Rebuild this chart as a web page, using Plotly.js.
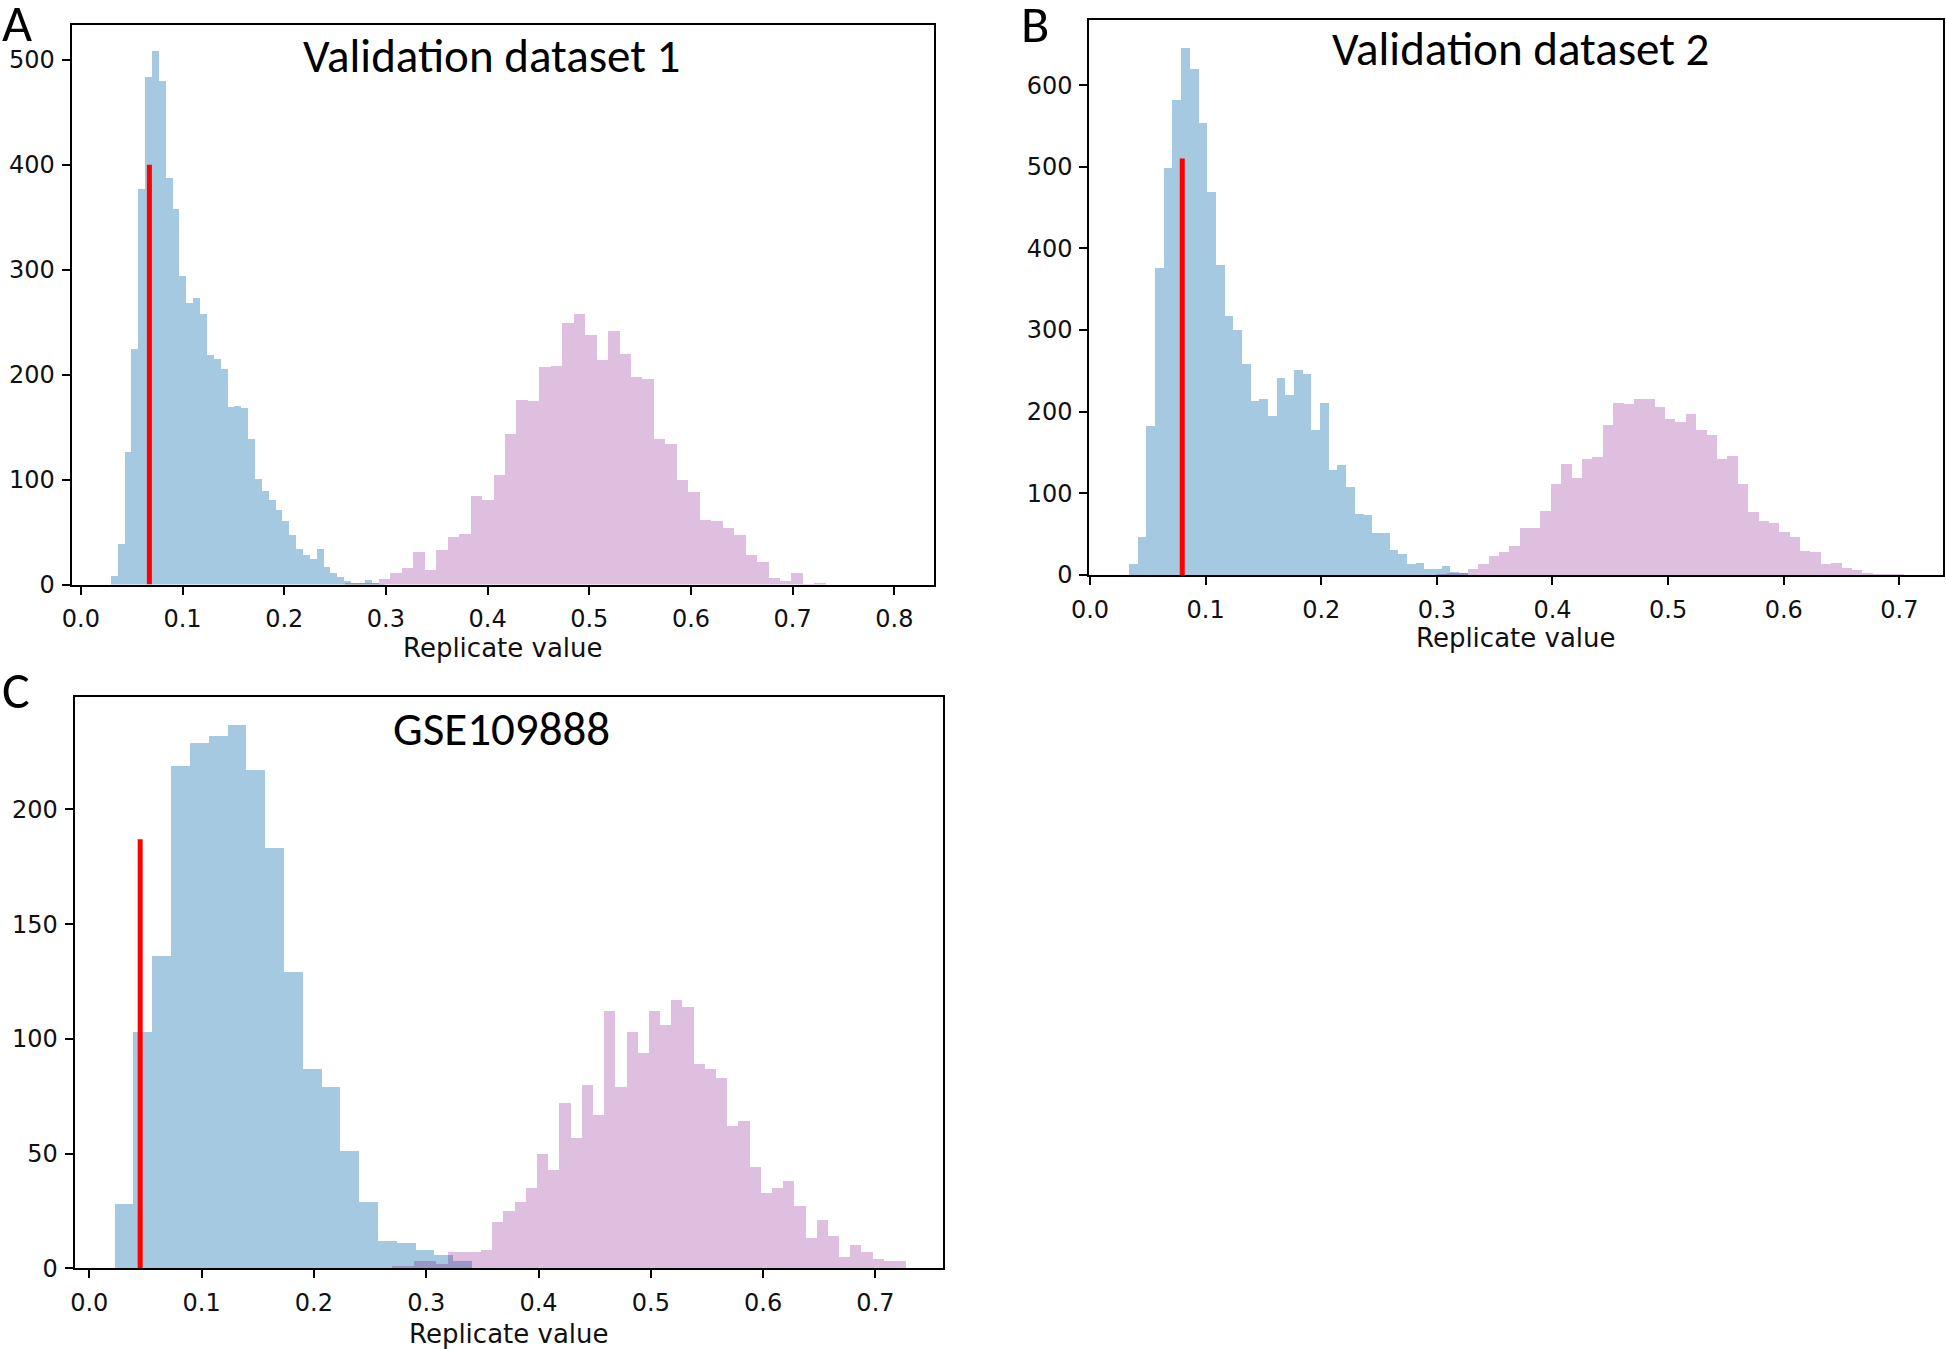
<!DOCTYPE html>
<html>
<head>
<meta charset="utf-8">
<script src="https://cdn.plot.ly/plotly-3.0.1.min.js"></script>
<style>
  html, body { margin: 0; padding: 0; background: #fff; }
  #chart { width: 1946px; height: 1349px; }
</style>
</head>
<body>
<div id="chart"></div>
<script>
// panel A - Validation dataset 1
const aBlueStart = 0.0295, aBlueWidth = 0.00675;
const aBlueCounts = [8, 39, 126, 224, 377, 484, 508, 480, 387, 358, 294, 268, 273, 258, 219, 215, 205, 169, 170, 168,
  139, 101, 89, 81, 71, 61, 47, 34, 28, 24, 34, 17, 11, 7, 3, 2, 2, 4, 2, 1];
const aPinkStart = 0.2593, aPinkWidth = 0.01127;
const aPinkCounts = [2, 2, 2, 5, 11, 16, 31, 14, 33, 45, 48, 84, 81, 104, 143, 176, 175, 207, 208, 249,
  258, 238, 214, 242, 220, 198, 196, 139, 134, 100, 88, 62, 61, 54, 47, 28, 22, 6, 3, 11, 1, 2];
const aCutX = 0.0674, aCutTop = 400;

// panel B - Validation dataset 2
const bBlueStart = 0.0338, bBlueWidth = 0.00751;
const bBlueCounts = [13, 46, 182, 376, 499, 582, 646, 620, 553, 469, 380, 317, 300, 258, 213, 216, 195, 241, 221, 251,
  246, 177, 211, 128, 135, 108, 75, 74, 51, 52, 31, 26, 13, 15, 7, 7, 11, 4, 3];
const bPinkStart = 0.2998, bPinkWidth = 0.00898;
const bPinkCounts = [1, 2, 3, 7, 14, 23, 28, 35, 58, 58, 79, 111, 136, 119, 142, 145, 184, 211, 210, 215,
  216, 206, 191, 187, 197, 177, 172, 142, 146, 111, 77, 66, 64, 53, 46, 29, 28, 14, 15, 9, 6, 2, 1, 1, 1];
const bCutX = 0.0798, bCutTop = 510;

// panel C - GSE109888
const cBlueStart = 0.0226, cBlueWidth = 0.01675;
const cBlueCounts = [28, 103, 136, 219, 229, 232, 237, 217, 183, 129, 87, 79, 51, 29, 12, 11, 8, 6, 3];
const cPinkStart = 0.2692, cPinkWidth = 0.00996;
const cPinkCounts = [1, 1, 3, 3, 2, 7, 7, 7, 8, 20, 25, 29, 35, 50, 43, 72, 57, 80, 67, 112,
  79, 103, 94, 112, 106, 117, 114, 89, 87, 83, 62, 64, 44, 33, 35, 38, 27, 13, 21, 14, 5, 10, 7, 4, 3, 3];
const cCutX = 0.0453, cCutTop = 187;

const panelTitles = ['Validation dataset 1', 'Validation dataset 2', 'GSE109888'];
const panelLetters = ['A', 'B', 'C'];
const xLabel = 'Replicate value';

const W = 1946, H = 1349;
const BLUE = 'rgba(31,119,180,0.4)';
const PINK = 'rgba(128,0,128,0.25)';
const TICKFONT = {family: 'DejaVu Sans', size: 24, color: '#111'};
const HEADFONT = 'Carlito, Calibri, Lato, sans-serif';

// pixel -> paper (margins are zero, so paper is the whole page)
const px = x => x / W;
const py = y => 1 - y / H;

function histTrace(start, width, counts, color, xa, ya) {
  return {
    type: 'bar',
    x: counts.map((c, i) => start + (i + 0.5) * width),
    y: counts,
    width: width,
    marker: {color: color, line: {width: 0}},
    xaxis: xa, yaxis: ya,
    hoverinfo: 'skip'
  };
}
function cutTrace(x, top, xa, ya) {
  return {
    type: 'scatter', mode: 'lines',
    x: [x, x], y: [0, top],
    line: {color: '#ff0000', width: 5},
    xaxis: xa, yaxis: ya, hoverinfo: 'skip'
  };
}

const traces = [
  histTrace(aBlueStart, aBlueWidth, aBlueCounts, BLUE, 'x', 'y'),
  histTrace(aPinkStart, aPinkWidth, aPinkCounts, PINK, 'x', 'y'),
  cutTrace(aCutX, aCutTop, 'x', 'y'),
  histTrace(bBlueStart, bBlueWidth, bBlueCounts, BLUE, 'x2', 'y2'),
  histTrace(bPinkStart, bPinkWidth, bPinkCounts, PINK, 'x2', 'y2'),
  cutTrace(bCutX, bCutTop, 'x2', 'y2'),
  histTrace(cBlueStart, cBlueWidth, cBlueCounts, BLUE, 'x3', 'y3'),
  histTrace(cPinkStart, cPinkWidth, cPinkCounts, PINK, 'x3', 'y3'),
  cutTrace(cCutX, cCutTop, 'x3', 'y3'),
];

function xAxis(domain, range, anchor) {
  return {
    domain: domain, range: range, anchor: anchor,
    tickmode: 'linear', tick0: 0, dtick: 0.1, tickformat: '.1f',
    showgrid: false, zeroline: false,
    showline: true, mirror: true, linecolor: '#000', linewidth: 2,
    ticks: 'outside', ticklen: 8, tickwidth: 2, tickcolor: '#000',
    ticklabelstandoff: 4,
    tickfont: TICKFONT, fixedrange: true
  };
}
function yAxis(domain, range, dtick, anchor) {
  return {
    domain: domain, range: range, anchor: anchor,
    tickmode: 'linear', tick0: 0, dtick: dtick,
    showgrid: false, zeroline: false,
    showline: true, mirror: true, linecolor: '#000', linewidth: 2,
    ticks: 'outside', ticklen: 8, tickwidth: 2, tickcolor: '#000',
    ticklabelstandoff: 2,
    tickfont: TICKFONT, fixedrange: true
  };
}

const layout = {
  width: W, height: H,
  margin: {l: 0, r: 0, t: 0, b: 0},
  paper_bgcolor: '#fff', plot_bgcolor: '#fff',
  showlegend: false,
  barmode: 'overlay', bargap: 0,
  xaxis:  xAxis([px(71.7), px(934)], [-0.009, 0.839], 'y'),
  yaxis:  yAxis([py(584.6), py(25.1)], [0, 533], 100, 'x'),
  xaxis2: xAxis([px(1089.3), px(1943.3)], [-0.0006, 0.738], 'y2'),
  yaxis2: yAxis([py(575), py(19.8)], [0, 680], 100, 'x2'),
  xaxis3: xAxis([px(74.7), px(943.4)], [-0.013, 0.7605], 'y3'),
  yaxis3: yAxis([py(1268.3), py(697)], [0, 249], 50, 'x3'),
  annotations: []
};

const titlePos = [[491, 56], [1520, 49], [501, 729]];
const letterPos = [[17, 23], [1035, 24], [16, 690]];
const xLabelPos = [[503, 648], [1516, 638], [509, 1334]];
for (let i = 0; i < 3; i++) {
  layout.annotations.push({
    xref: 'paper', yref: 'paper', x: px(titlePos[i][0]), y: py(titlePos[i][1]),
    xanchor: 'center', yanchor: 'middle', showarrow: false,
    text: panelTitles[i], font: {family: HEADFONT, size: 47, color: '#000'}
  });
  layout.annotations.push({
    xref: 'paper', yref: 'paper', x: px(letterPos[i][0]), y: py(letterPos[i][1]),
    xanchor: 'center', yanchor: 'middle', showarrow: false,
    text: panelLetters[i], font: {family: HEADFONT, size: 52, color: '#000'}
  });
  layout.annotations.push({
    xref: 'paper', yref: 'paper', x: px(xLabelPos[i][0]), y: py(xLabelPos[i][1]),
    xanchor: 'center', yanchor: 'middle', showarrow: false,
    text: xLabel, font: {family: 'DejaVu Sans', size: 26, color: '#111'}
  });
}

Plotly.newPlot('chart', traces, layout, {staticPlot: true, displayModeBar: false});
</script>
</body>
</html>
